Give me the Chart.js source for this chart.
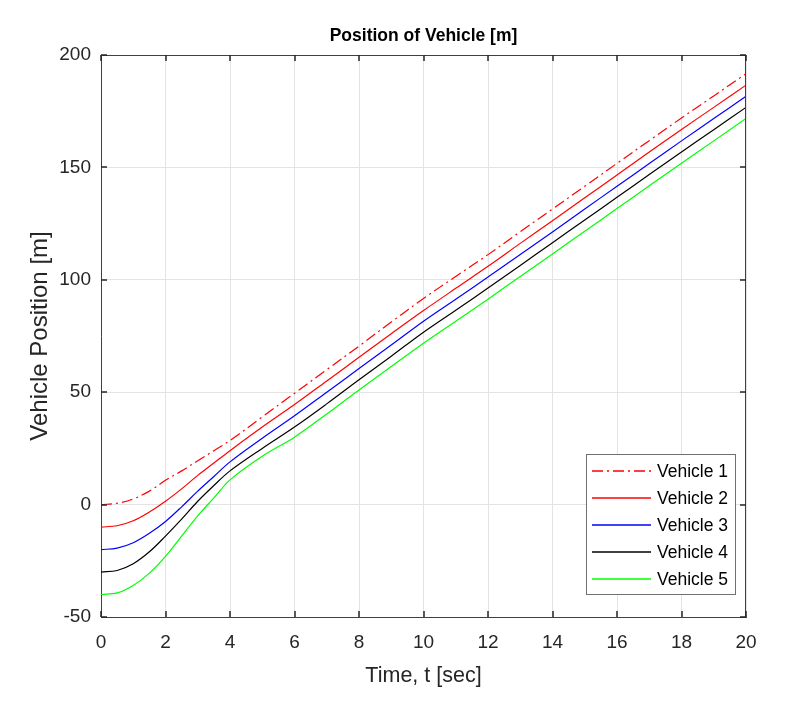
<!DOCTYPE html>
<html>
<head>
<meta charset="utf-8">
<script src="https://cdn.jsdelivr.net/npm/chart.js@4.4.0/dist/chart.umd.min.js"></script>
<style>
  html, body { margin: 0; padding: 0; background: #fff; }
  #wrap { width: 789px; height: 713px; }
</style>
</head>
<body>
<div id="wrap"><canvas id="posChart" width="789" height="713"></canvas></div>
<script>
// time samples [sec]
const times = [0, 0.5, 1, 1.5, 2, 2.5, 3, 3.5, 4, 5, 6, 7, 8, 9, 10, 11, 12, 13, 14, 15, 16, 17, 18, 19, 20];

// vehicle positions [m]
const vehicle1 = [0, 0.6, 2.5, 6, 10.8, 15, 19.5, 24, 28.5, 39, 49.5, 60, 70.5, 81.2, 91.7, 101.5, 111.2, 121.4, 131.5, 141.6, 151.8, 161.9, 172, 181.8, 191.7];
const vehicle2 = [-10, -9.4, -7.2, -3.3, 1.5, 7, 13, 18.5, 24, 34.5, 44.5, 55, 65.5, 76, 86.3, 96.2, 106, 116.2, 126.3, 136.5, 146.6, 156.8, 166.9, 176.7, 186.6];
const vehicle3 = [-20, -19.4, -17, -12.8, -7.5, -1, 6, 12.5, 19, 29.5, 39.5, 50, 60.5, 71, 81.6, 91.4, 101.2, 111.3, 121.3, 131.5, 141.6, 151.7, 161.8, 171.7, 181.6];
const vehicle4 = [-30, -29.3, -26.3, -21, -14, -6.5, 1.5, 8.5, 15, 25, 34.5, 44.8, 55.5, 66, 76.7, 86.5, 96.3, 106.4, 116.5, 126.6, 136.7, 146.8, 156.8, 166.8, 176.7];
const vehicle5 = [-40, -39.3, -36, -30.5, -23, -14, -5, 3, 11, 21.5, 30, 40.3, 51, 61.4, 71.8, 81.6, 91.4, 101.5, 111.5, 121.6, 131.7, 141.8, 151.8, 161.8, 171.8];

const seriesNames = ["Vehicle 1", "Vehicle 2", "Vehicle 3", "Vehicle 4", "Vehicle 5"];
const seriesColors = ["#ff0000", "#ff0000", "#0000ff", "#000000", "#00ff00"];
const seriesDash = [[11, 4, 2, 4], [], [], [], []];

const xTicks = [0, 2, 4, 6, 8, 10, 12, 14, 16, 18, 20];
const yTicks = [-50, 0, 50, 100, 150, 200];

const FONT = "'Liberation Sans', Arial, Helvetica, sans-serif";
const axisColor = "#404040";
const textColor = "#262626";

function toPoints(vals) {
    return vals.map((v, i) => ({ x: times[i], y: v }));
}

const allSeries = [vehicle1, vehicle2, vehicle3, vehicle4, vehicle5];

// MATLAB style box: top/right border, inward ticks, boxed legend
const matlabBox = {
    id: "matlabBox",
    afterDatasetsDraw(chart) {
        const { ctx, chartArea: a, scales } = chart;
        ctx.save();
        ctx.strokeStyle = axisColor;
        ctx.lineWidth = 1;
        ctx.beginPath();
        ctx.moveTo(a.left, a.top + 0.5);
        ctx.lineTo(a.right, a.top + 0.5);
        ctx.moveTo(a.right - 0.5, a.top);
        ctx.lineTo(a.right - 0.5, a.bottom);
        ctx.stroke();

        ctx.strokeStyle = textColor;
        ctx.lineWidth = 1.5;
        ctx.beginPath();
        const tl = 6;
        xTicks.forEach(t => {
            const px = Math.round(scales.x.getPixelForValue(t));
            ctx.moveTo(px, a.bottom); ctx.lineTo(px, a.bottom - tl);
            ctx.moveTo(px, a.top); ctx.lineTo(px, a.top + tl);
        });
        yTicks.forEach(t => {
            const py = Math.round(scales.y.getPixelForValue(t));
            ctx.moveTo(a.left, py); ctx.lineTo(a.left + tl, py);
            ctx.moveTo(a.right, py); ctx.lineTo(a.right - tl, py);
        });
        ctx.stroke();
        ctx.restore();
    },
    afterDraw(chart) {
        const { ctx } = chart;
        const box = { left: 586, top: 454, width: 150, height: 141 };
        ctx.save();
        ctx.fillStyle = "#ffffff";
        ctx.fillRect(box.left, box.top, box.width, box.height);
        ctx.strokeStyle = "#707070";
        ctx.lineWidth = 1;
        ctx.strokeRect(box.left + 0.5, box.top + 0.5, box.width - 1, box.height - 1);

        ctx.font = "17.5px " + FONT;
        ctx.textBaseline = "middle";
        ctx.fillStyle = "#000";
        seriesNames.forEach((name, i) => {
            const y = 471 + i * 27;
            ctx.strokeStyle = seriesColors[i];
            ctx.lineWidth = 1.3;
            ctx.setLineDash(seriesDash[i]);
            ctx.beginPath();
            ctx.moveTo(592, y);
            ctx.lineTo(651, y);
            ctx.stroke();
            ctx.setLineDash([]);
            ctx.fillText(name, 657, y + 1);
        });
        ctx.restore();
    }
};

const ctx = document.getElementById("posChart");

new Chart(ctx, {
    type: "line",
    data: {
        datasets: allSeries.map((vals, i) => ({
            label: seriesNames[i],
            data: toPoints(vals),
            borderColor: seriesColors[i],
            borderDash: seriesDash[i],
            borderWidth: 1.2,
            pointRadius: 0,
            fill: false,
            tension: 0.35
        }))
    },
    options: {
        responsive: false,
        animation: false,
        layout: { padding: { left: 0, right: 43, top: 0, bottom: 0 } },
        plugins: {
            legend: { display: false },
            tooltip: { enabled: false },
            title: {
                display: true,
                fullSize: false,
                text: "Position of Vehicle [m]",
                color: "#000",
                font: { family: FONT, size: 17.5, weight: "bold", lineHeight: 1.2 },
                padding: { top: 26, bottom: 8 }
            }
        },
        scales: {
            x: {
                type: "linear",
                min: 0,
                max: 20,
                afterFit: s => { s.height = 96; },
                afterBuildTicks: s => { s.ticks = xTicks.map(v => ({ value: v })); },
                grid: { color: "#e3e3e3", drawTicks: false },
                border: { color: axisColor },
                ticks: { color: textColor, padding: 14, maxRotation: 0, font: { family: FONT, size: 19 } },
                title: {
                    display: true,
                    text: "Time, t [sec]",
                    color: textColor,
                    font: { family: FONT, size: 21.5, lineHeight: 1.2 },
                    padding: { bottom: 24 }
                }
            },
            y: {
                min: -50,
                max: 200,
                afterFit: s => { s.width = 101; },
                afterBuildTicks: s => { s.ticks = yTicks.map(v => ({ value: v })); },
                grid: { color: "#e3e3e3", drawTicks: false },
                border: { color: axisColor },
                ticks: { color: textColor, padding: 10, font: { family: FONT, size: 19 } },
                title: {
                    display: true,
                    text: "Vehicle Position [m]",
                    color: textColor,
                    font: { family: FONT, size: 24, lineHeight: 1.2 },
                    padding: { top: 26 }
                }
            }
        }
    },
    plugins: [matlabBox]
});
</script>
</body>
</html>
